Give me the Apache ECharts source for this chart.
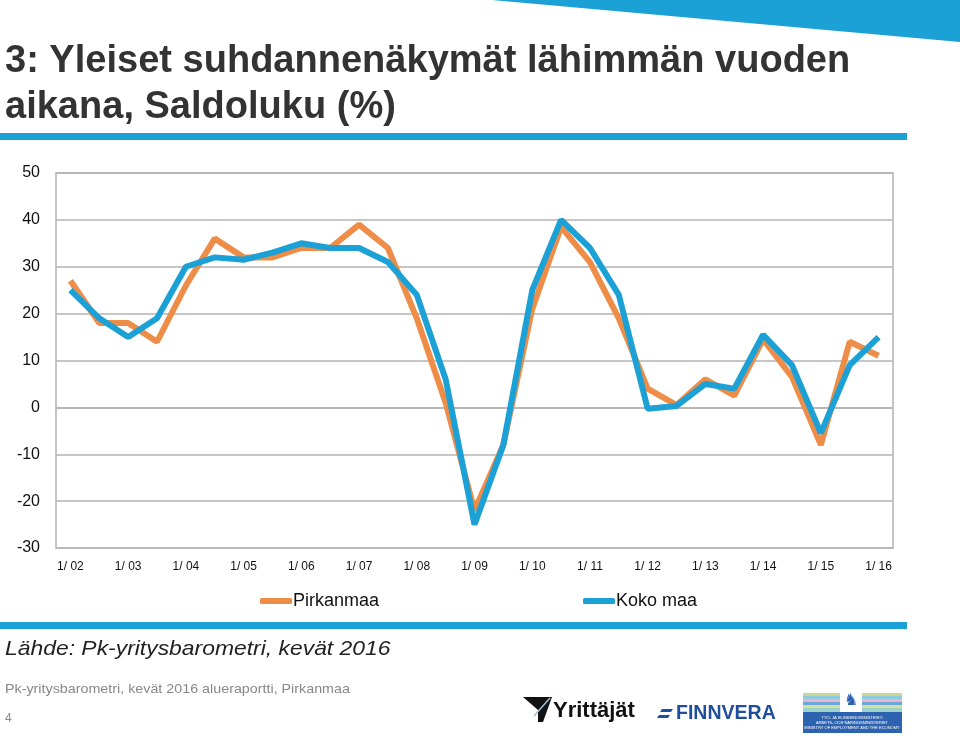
<!DOCTYPE html>
<html>
<head>
<meta charset="utf-8">
<script src="https://cdn.jsdelivr.net/npm/echarts@6/dist/echarts.min.js"></script>
<style>
  html, body { margin: 0; padding: 0; background: #fff; }
  #chart { width: 960px; height: 738px; }
</style>
</head>
<body>
<div id="chart"></div>
<script>
// tick labels: spring survey shown, autumn survey left blank
var categories = ['1/ 02', '', '1/ 03', '', '1/ 04', '', '1/ 05', '', '1/ 06', '', '1/ 07', '', '1/ 08', '',
  '1/ 09', '', '1/ 10', '', '1/ 11', '', '1/ 12', '', '1/ 13', '', '1/ 14', '', '1/ 15', '', '1/ 16']

var pirkanmaa = [27, 18, 18, 14, 26, 36, 32, 32, 34, 34, 39, 34, 19, 1, -22, -8, 21, 38.5, 31, 19,
  4, 0.5, 6, 2.5, 14.5, 6.5, -8, 14, 11]
var kokoMaa = [25, 19, 15, 19, 30, 32, 31.5, 33, 35, 34, 34, 31, 24, 6, -25, -8, 25, 40, 34, 24,
  -0.3, 0.3, 5, 4, 15.5, 9, -5.5, 9, 15]

var yTicks = { min: -30, max: 50, step: 10 }

var ORANGE = '#ee8d47'
var BLUE = '#1ba1d6'
var GRAY = '#b3b3b3'
var SANS = '"Liberation Sans", Arial, sans-serif'

var chart = echarts.init(document.getElementById('chart'))

// condensed text: squeeze normal sans with scaleX
function squeezed(x, y, text, font, fill, sx, extra) {
  var style = { text: text, font: font, fill: fill, x: 0, y: 0, verticalAlign: 'top' }
  if (extra) Object.assign(style, extra)
  return { type: 'text', x: x, y: y, scaleX: sx, style: style }
}

chart.setOption({
  animation: false,
  textStyle: { fontFamily: SANS },
  grid: {
    left: 56,
    right: 67,
    top: 173,
    bottom: 190,
    show: true,
    borderColor: GRAY,
    borderWidth: 1.5
  },
  legend: [{
    left: 255,
    top: 587,
    data: ['Pirkanmaa'],
    icon: 'roundRect',
    itemWidth: 32,
    itemHeight: 6,
    itemGap: 0,
    textStyle: { fontSize: 18, color: '#111', padding: [0, 0, 0, -4] }
  }, {
    left: 578,
    top: 587,
    data: ['Koko maa'],
    icon: 'roundRect',
    itemWidth: 32,
    itemHeight: 6,
    itemGap: 0,
    textStyle: { fontSize: 18, color: '#111', padding: [0, 0, 0, -4] }
  }],
  xAxis: {
    type: 'category',
    data: categories,
    boundaryGap: true,
    axisLine: { lineStyle: { color: GRAY, width: 1.5 } },
    axisTick: { show: false },
    axisLabel: {
      interval: 0,
      margin: 13,
      fontSize: 12,
      color: '#111'
    }
  },
  yAxis: {
    type: 'value',
    min: yTicks.min,
    max: yTicks.max,
    interval: yTicks.step,
    axisLine: { show: false },
    axisTick: { show: false },
    axisLabel: { fontSize: 16, color: '#111', margin: 16 },
    splitLine: { lineStyle: { color: GRAY, width: 1.5 } }
  },
  series: [{
    name: 'Pirkanmaa',
    type: 'line',
    data: pirkanmaa,
    color: ORANGE,
    symbol: 'none',
    lineStyle: { width: 6, color: ORANGE }
  }, {
    name: 'Koko maa',
    type: 'line',
    data: kokoMaa,
    color: BLUE,
    symbol: 'none',
    lineStyle: { width: 6, color: BLUE }
  }],
  graphic: [
    // top right wedge
    {
      type: 'polygon',
      shape: { points: [[492, 0], [960, 0], [960, 42]] },
      style: { fill: BLUE }
    },
    squeezed(5, 42, '3: Yleiset suhdannenäkymät lähimmän vuoden', 'bold 39px ' + SANS, '#333', 0.975),
    squeezed(5, 88, 'aikana, Saldoluku (%)', 'bold 39px ' + SANS, '#333', 0.975),
    {
      type: 'rect',
      shape: { x: 0, y: 133, width: 907, height: 7 },
      style: { fill: BLUE }
    },
    {
      type: 'rect',
      shape: { x: 0, y: 622, width: 907, height: 7 },
      style: { fill: BLUE }
    },
    squeezed(5, 639, 'Lähde: Pk-yritysbarometri, kevät 2016', 'italic 21px ' + SANS, '#222', 1.09),
    squeezed(5, 683, 'Pk-yritysbarometri, kevät 2016 alueraportti, Pirkanmaa', '13px ' + SANS, '#888', 1.1),
    squeezed(5, 713, '4', '12px ' + SANS, '#888', 1),
    // Yrittäjät logo
    {
      type: 'polygon',
      shape: { points: [[523, 697], [552, 697], [543, 722], [538, 722], [538, 710]] },
      style: { fill: '#111' }
    },
    {
      type: 'line',
      shape: { x1: 534, y1: 716, x2: 550, y2: 698 },
      style: { stroke: '#9fc3dc', lineWidth: 1.5 }
    },
    squeezed(553, 700, 'Yrittäjät', 'bold 22px ' + SANS, '#111', 1),
    // Finnvera logo
    {
      type: 'polygon',
      shape: { points: [[662, 709], [673, 709], [671, 712], [660, 712]] },
      style: { fill: '#1f4e9a' }
    },
    {
      type: 'polygon',
      shape: { points: [[659, 715], [670, 715], [668, 718], [657, 718]] },
      style: { fill: '#1f4e9a' }
    },
    squeezed(676, 703, 'FINNVERA', 'bold 21px ' + SANS, '#1f4e9a', 0.93),
    // ministry logo
    { type: 'rect', shape: { x: 803, y: 693, width: 99, height: 3 }, style: { fill: '#c9d98a' } },
    { type: 'rect', shape: { x: 803, y: 696, width: 99, height: 3 }, style: { fill: '#8ecbe0' } },
    { type: 'rect', shape: { x: 803, y: 699, width: 99, height: 3 }, style: { fill: '#e6b4d0' } },
    { type: 'rect', shape: { x: 803, y: 702, width: 99, height: 3 }, style: { fill: '#6aa7d8' } },
    { type: 'rect', shape: { x: 803, y: 705, width: 99, height: 3 }, style: { fill: '#d7dfa0' } },
    { type: 'rect', shape: { x: 803, y: 708, width: 99, height: 4 }, style: { fill: '#9bd3c8' } },
    { type: 'rect', shape: { x: 840, y: 693, width: 22, height: 19 }, style: { fill: '#ffffff' } },
    squeezed(844, 693, '♞', '16px "DejaVu Sans", sans-serif', '#2c62b0', 1),
    { type: 'rect', shape: { x: 803, y: 712, width: 99, height: 21 }, style: { fill: '#2c62b0' } },
    {
      type: 'text',
      x: 852,
      y: 715,
      style: {
        text: 'TYÖ- JA ELINKEINOMINISTERIÖ\nARBETS- OCH NÄRINGSMINISTERIET\nMINISTRY OF EMPLOYMENT AND THE ECONOMY',
        font: '4px ' + SANS,
        fill: '#ffffff',
        align: 'center',
        verticalAlign: 'top',
        lineHeight: 5
      }
    }
  ]
})
</script>
</body>
</html>
